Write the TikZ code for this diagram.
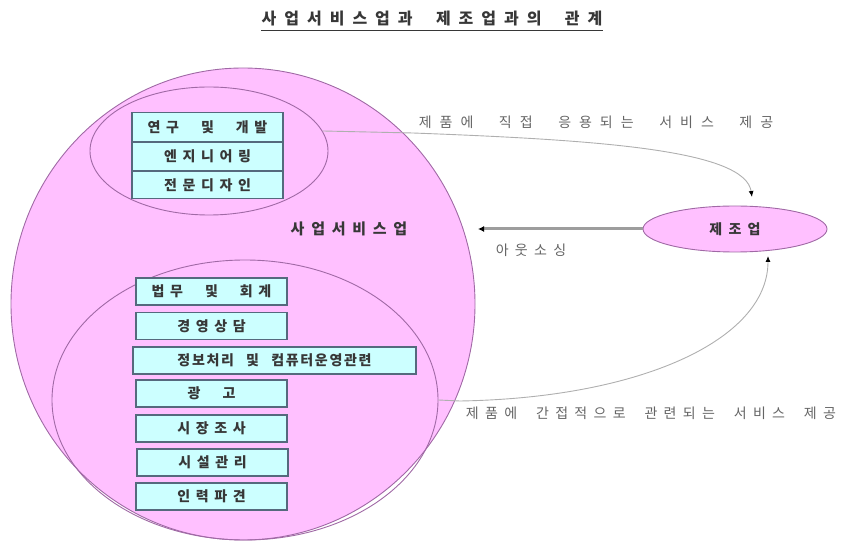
\documentclass[tikz,border=0pt]{standalone}
\usepackage{fontspec}
\newfontfamily\kr[LetterSpace=40,WordSpace=2.5]{Noto Sans CJK KR}
\newfontfamily\krl[LetterSpace=45,WordSpace=2]{Noto Sans CJK KR}
\newfontfamily\krw[LetterSpace=57,WordSpace=2.3]{Noto Sans CJK KR}
\newfontfamily\krt[LetterSpace=50,WordSpace=2]{Noto Sans CJK KR}
\usetikzlibrary{shapes.geometric,arrows.meta}
\definecolor{pinkfill}{RGB}{255,192,255}
\definecolor{ellline}{RGB}{160,105,165}
\definecolor{boxfill}{RGB}{204,255,255}
\definecolor{boxline}{RGB}{85,105,125}
\definecolor{txt}{RGB}{55,55,55}
\definecolor{lbl}{RGB}{100,100,100}
\definecolor{curve}{RGB}{175,175,175}
\tikzset{
  ell/.style={ellipse, draw=ellline, line width=0.9pt, fill=pinkfill, inner sep=0pt},
  inell/.style={ellipse, draw=ellline, line width=0.9pt, inner sep=0pt},
  sbox/.style={draw=boxline, line width=1.3pt, fill=boxfill, minimum width=151pt, minimum height=27pt, inner sep=0pt, font=\kr\bfseries\fontsize{14}{16}\selectfont, text=txt},
  lab/.style={font=\krl\fontsize{14}{16}\selectfont, text=lbl, inner sep=0pt},
  conn/.style={draw=curve, line width=0.9pt, -{Latex[length=6pt,width=5pt,color=black]}},
}
\begin{document}
\begin{tikzpicture}[x=1pt,y=-1pt]
\useasboundingbox (0,0) rectangle (846,545);
% title
\node[font=\krt\bfseries\fontsize{16}{18}\selectfont, text=txt, inner sep=0pt] (title) at (432,19) {사업서비스업과 제조업과의 관계};
\draw[txt, line width=0.9pt] ([yshift=-4pt]title.south west) -- ([yshift=-4pt]title.south east);
% big ellipse
\node[ell, minimum width=464pt, minimum height=472pt] (big) at (243,304) {};
\node[inell, minimum width=238pt, minimum height=128pt] (topell) at (209,151) {};
\node[inell, minimum width=386pt, minimum height=280pt] (botell) at (245,400) {};
% top boxes
\node[sbox, minimum height=29pt] (b1) at (207.5,127) {연구 및 개발};
\node[sbox, minimum height=28pt] (b2) at (207.5,156.5) {엔지니어링};
\node[sbox, minimum height=27pt] (b3) at (207.5,185) {전문디자인};
% bottom boxes
\node[sbox] (c1) at (211.5,291.5) {법무 및 회계};
\node[sbox] (c2) at (211.5,326) {경영상담};
\node[sbox, minimum width=283pt, font=\kr\bfseries\fontsize{14}{16}\selectfont\addfontfeature{LetterSpace=12}] (c3) at (274.5,360.5) {정보처리 및 컴퓨터운영관련};
\node[sbox] (c4) at (211.5,393.5) {광 고};
\node[sbox] (c5) at (211.5,428.5) {시장조사};
\node[sbox] (c6) at (212.5,462.5) {시설관리};
\node[sbox] (c7) at (211.5,496.5) {인력파견};
% labels
\node[lab, text=txt, font=\krl\bfseries\fontsize{15}{17}\selectfont] (svc) at (349,229) {사업서비스업};
% manufacturing
\node[ell, minimum width=184pt, minimum height=46pt, font=\krl\bfseries\fontsize{14}{16}\selectfont, text=txt] (mfg) at (735,229) {제조업};
\coordinate (outEnd) at (478,229);
\coordinate (topEnd) at (752,197);
\coordinate (botEnd) at (768,256);
\coordinate (topMid) at (413,133);
\coordinate (botMid) at (460,401);
\draw[draw=curve!90!black, line width=3pt, -{Latex[length=6pt,width=6pt,color=black]}] (mfg.west) -- (outEnd);
\node[lab] (outlab) at (531,250) {아웃소싱};
\draw[conn] (topell.10) -- (topMid) .. controls (600,140) and (745,150) .. (topEnd);
\node[lab, font=\krw\fontsize{14}{16}\selectfont] (toplab) at (596,122) {제품에 직접 응용되는 서비스 제공};
\draw[conn] (botell.east) -- (botMid) .. controls (640,398) and (768,340) .. (botEnd);
\node[lab] (botlab) at (651,413) {제품에 간접적으로 관련되는 서비스 제공};
\end{tikzpicture}
\end{document}
